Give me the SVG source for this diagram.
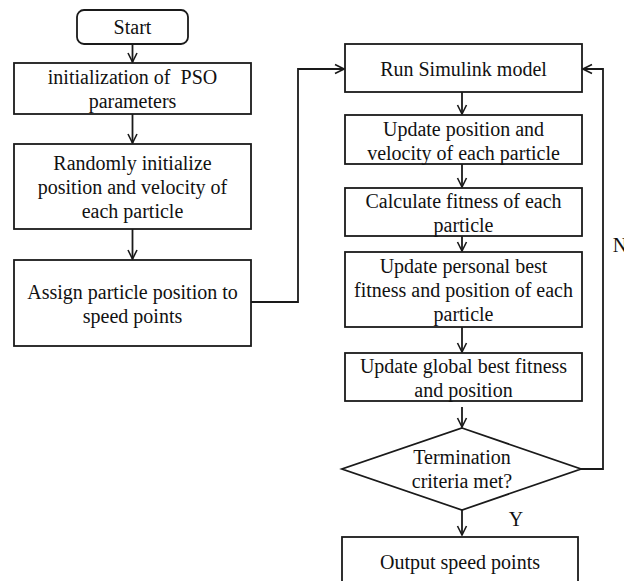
<svg xmlns="http://www.w3.org/2000/svg" width="624" height="581" viewBox="0 0 624 581">
  <defs>
    <style>
      .box { fill: #fff; stroke: #1a1a1a; stroke-width: 1.8; }
      .lbl { font-family: "Liberation Serif", "Times New Roman", serif; font-size: 20px; fill: #111; text-anchor: middle; white-space: pre; }
      .wire { fill: none; stroke: #1a1a1a; stroke-width: 1.8; }
    </style>
    <marker id="arr" viewBox="0 0 12 12" refX="11" refY="6" markerWidth="12" markerHeight="12" markerUnits="userSpaceOnUse" orient="auto">
      <polyline points="2,1.5 11,6 2,10.5" fill="none" stroke="#1a1a1a" stroke-width="1.6"/>
    </marker>
  </defs>
  <rect width="624" height="581" fill="#fff"/>

  <g id="start">
    <rect class="box" x="77" y="10" width="111" height="34" rx="7"/>
    <text class="lbl" x="132.5" y="34">Start</text>
  </g>
  <g id="init-params">
    <rect class="box" x="14" y="63" width="237" height="51"/>
    <text class="lbl" x="132.5" y="84" xml:space="preserve">initialization of  PSO</text>
    <text class="lbl" x="132.5" y="108">parameters</text>
  </g>
  <g id="random-init">
    <rect class="box" x="14" y="144" width="237" height="85"/>
    <text class="lbl" x="132.5" y="170">Randomly initialize</text>
    <text class="lbl" x="132.5" y="194">position and velocity of</text>
    <text class="lbl" x="132.5" y="218">each particle</text>
  </g>
  <g id="assign">
    <rect class="box" x="14" y="260" width="237" height="86"/>
    <text class="lbl" x="132.5" y="299">Assign particle position to</text>
    <text class="lbl" x="132.5" y="323">speed points</text>
  </g>

  <g id="run-sim">
    <rect class="box" x="345" y="44" width="237" height="48"/>
    <text class="lbl" x="463.5" y="76">Run Simulink model</text>
  </g>
  <g id="update-pv">
    <rect class="box" x="345" y="115" width="237" height="49"/>
    <text class="lbl" x="463.5" y="136">Update position and</text>
    <text class="lbl" x="463.5" y="160">velocity of each particle</text>
  </g>
  <g id="calc-fitness">
    <rect class="box" x="345" y="188" width="237" height="48"/>
    <text class="lbl" x="463.5" y="208">Calculate fitness of each</text>
    <text class="lbl" x="463.5" y="232">particle</text>
  </g>
  <g id="update-pbest">
    <rect class="box" x="345" y="252" width="237" height="75"/>
    <text class="lbl" x="463.5" y="273">Update personal best</text>
    <text class="lbl" x="463.5" y="297">fitness and position of each</text>
    <text class="lbl" x="463.5" y="321">particle</text>
  </g>
  <g id="update-gbest">
    <rect class="box" x="345" y="353" width="237" height="48"/>
    <text class="lbl" x="463.5" y="373">Update global best fitness</text>
    <text class="lbl" x="463.5" y="397">and position</text>
  </g>
  <g id="termination">
    <polygon class="box" points="462,428 581,469 462,510 342,469"/>
    <text class="lbl" x="462" y="464">Termination</text>
    <text class="lbl" x="462" y="488">criteria met?</text>
  </g>
  <g id="output">
    <rect class="box" x="342" y="537" width="236" height="60"/>
    <text class="lbl" x="460" y="569">Output speed points</text>
  </g>

  <g id="connectors">
    <line class="wire" x1="132.5" y1="44" x2="132.5" y2="62" marker-end="url(#arr)"/>
    <line class="wire" x1="132.5" y1="114" x2="132.5" y2="143" marker-end="url(#arr)"/>
    <line class="wire" x1="132.5" y1="229" x2="132.5" y2="259" marker-end="url(#arr)"/>
    <polyline class="wire" points="251,302 298,302 298,69 344,69" marker-end="url(#arr)"/>
    <line class="wire" x1="462" y1="92" x2="462" y2="114" marker-end="url(#arr)"/>
    <line class="wire" x1="462" y1="164" x2="462" y2="187" marker-end="url(#arr)"/>
    <line class="wire" x1="462" y1="236" x2="462" y2="251" marker-end="url(#arr)"/>
    <line class="wire" x1="462" y1="327" x2="462" y2="352" marker-end="url(#arr)"/>
    <line class="wire" x1="462" y1="407" x2="462" y2="427" marker-end="url(#arr)"/>
    <line class="wire" x1="462" y1="510" x2="462" y2="535" marker-end="url(#arr)"/>
    <polyline class="wire" points="581,469 603,469 603,69 583,69" marker-end="url(#arr)"/>
    <text class="lbl" x="620" y="252">N</text>
    <text class="lbl" x="516" y="526">Y</text>
  </g>
</svg>
